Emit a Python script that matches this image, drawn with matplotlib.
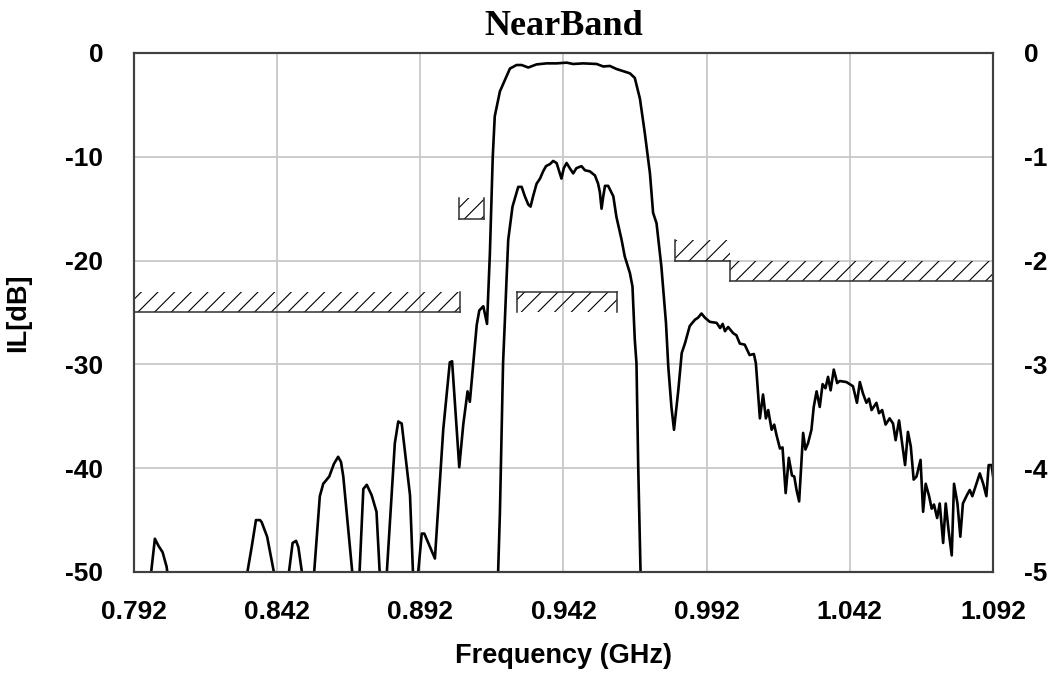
import matplotlib
matplotlib.use('Agg')
import matplotlib.pyplot as plt

# --- DATA ---
# wideband insertion loss (left axis, dB)
freq_wide = [0.7920, 0.7978, 0.7993, 0.8006, 0.8020, 0.8034, 0.8041, 0.8150,
             0.8313, 0.8331, 0.8346, 0.8360, 0.8366, 0.8385, 0.8412, 0.8440,
             0.8459, 0.8474, 0.8486, 0.8494, 0.8509, 0.8530,
             0.8548, 0.8569, 0.8581, 0.8602, 0.8618, 0.8633, 0.8643, 0.8651, 0.8684, 0.8696,
             0.8707, 0.8721, 0.8733, 0.8750, 0.8767, 0.8779, 0.8790,
             0.8802, 0.8831, 0.8843, 0.8855, 0.8884, 0.8895, 0.8903,
             0.8911, 0.8925, 0.8934, 0.8948, 0.8971, 0.9000, 0.9023, 0.9031, 0.9056,
             0.9070, 0.9085, 0.9093, 0.9117, 0.9126, 0.9140, 0.9153, 0.9163, 0.9173,
             0.9180, 0.9198, 0.9233, 0.9256, 0.9274, 0.9297, 0.9326, 0.9361, 0.9396,
             0.9431, 0.9454, 0.9489, 0.9536, 0.9559, 0.9582, 0.9605, 0.9652, 0.9669,
             0.9687, 0.9704, 0.9722, 0.9733, 0.9745, 0.9762, 0.9778, 0.9786, 0.9797,
             0.9806, 0.9821, 0.9833, 0.9844, 0.9861, 0.9879, 0.9890, 0.9902, 0.9914,
             0.9931, 0.9955, 0.9967, 0.9976, 0.9984, 0.9995, 1.0013, 1.0024, 1.0036,
             1.0053, 1.0070, 1.0085, 1.0092, 1.0106, 1.0117, 1.0127, 1.0135, 1.0147,
             1.0156, 1.0164, 1.0176, 1.0185, 1.0196, 1.0207, 1.0218, 1.0226, 1.0234,
             1.0243, 1.0257, 1.0265, 1.0274, 1.0286, 1.0294, 1.0304, 1.0315, 1.0325,
             1.0335, 1.0344, 1.0353, 1.0364, 1.0376, 1.0385, 1.0408, 1.0431, 1.0445,
             1.0455, 1.0466, 1.0478, 1.0487, 1.0496, 1.0513, 1.0522, 1.0533, 1.0545,
             1.0559, 1.0571, 1.0580, 1.0592, 1.0604, 1.0613, 1.0623, 1.0633, 1.0643,
             1.0653, 1.0667, 1.0676, 1.0685, 1.0697, 1.0706, 1.0714, 1.0725, 1.0734,
             1.0746, 1.0755, 1.0765, 1.0776, 1.0784, 1.0796, 1.0806, 1.0815, 1.0829,
             1.0839, 1.0848, 1.0862, 1.0874, 1.0886, 1.0897, 1.0905, 1.0915, 1.0923]
il_wide = [-60.0, -50.5, -46.8, -47.5, -48.1, -49.5, -51.0, -58.0,
           -50.5, -47.6, -45.0, -45.0, -45.2, -46.6, -50.5, -55.0,
           -50.5, -47.2, -47.0, -47.6, -50.5, -54.0,
           -50.5, -42.7, -41.5, -40.8, -39.6, -38.9, -39.4, -40.8, -50.5, -53.0,
           -50.5, -42.0, -41.6, -42.6, -44.2, -50.5, -53.0,
           -50.5, -37.6, -35.5, -35.7, -42.6, -50.5, -53.0,
           -50.5, -46.3, -46.3, -47.2, -48.7, -36.3, -29.8, -29.7, -39.9,
           -35.8, -32.6, -33.6, -26.2, -24.8, -24.4, -26.1, -19.3, -10.0,
           -6.1, -3.7, -1.5, -1.16, -1.16, -1.4, -1.1, -1.0, -1.0,
           -0.93, -1.06, -1.0, -1.06, -1.3, -1.25, -1.54, -1.96, -2.4,
           -4.4, -7.7, -11.6, -15.4, -16.4, -20.6, -26.0, -30.2, -34.1,
           -36.3, -32.5, -28.9, -28.0, -26.3, -25.7, -25.5, -25.1, -25.5,
           -25.9, -26.0, -26.5, -26.1, -26.8, -26.4, -27.0, -27.2, -28.0,
           -28.1, -29.1, -29.0, -29.9, -35.2, -32.9, -35.2, -34.4, -36.3,
           -35.8, -36.8, -38.1, -38.0, -42.4, -39.0, -40.7, -40.8, -42.1,
           -43.2, -36.6, -38.2, -37.6, -36.3, -34.1, -32.6, -34.1, -31.9,
           -32.3, -31.2, -32.5, -30.5, -31.8, -31.6, -31.7, -32.1, -33.7,
           -31.7, -32.8, -33.7, -33.3, -34.4, -33.7, -34.7, -34.4, -35.8,
           -35.2, -35.7, -37.3, -35.4, -37.9, -39.7, -36.5, -37.9, -41.1,
           -40.8, -39.2, -44.2, -41.5, -42.7, -43.9, -43.5, -44.8, -43.4,
           -47.2, -43.4, -46.0, -48.4, -41.5, -43.4, -46.6, -43.4, -42.6,
           -42.1, -42.7, -41.5, -40.5, -41.5, -42.7, -39.7, -39.7, -41.3]

# passband detail (right axis, dB)
freq_pass = [0.9185, 0.9192, 0.9198, 0.9209, 0.9215, 0.9221, 0.9227, 0.9242, 0.9262,
             0.9274, 0.9285, 0.9297, 0.9305, 0.9314, 0.9326, 0.9338, 0.9349, 0.9359,
             0.9373, 0.9384, 0.9396, 0.9405, 0.9413, 0.9421, 0.9431, 0.9442, 0.9454,
             0.9465, 0.9483, 0.9495, 0.9512, 0.9530, 0.9541, 0.9547, 0.9553, 0.9559,
             0.9565, 0.9576, 0.9594, 0.9605, 0.9623, 0.9634, 0.9652, 0.9661, 0.9669,
             0.9675, 0.9681, 0.9689, 0.9695]
il_pass = [-5.5, -4.98, -4.43, -2.99, -2.60, -2.19, -1.80, -1.48, -1.29,
           -1.29, -1.38, -1.46, -1.48, -1.38, -1.26, -1.21, -1.14, -1.09,
           -1.07, -1.04, -1.06, -1.14, -1.21, -1.11, -1.06, -1.11, -1.16,
           -1.11, -1.09, -1.13, -1.14, -1.18, -1.26, -1.34, -1.50, -1.38,
           -1.28, -1.28, -1.38, -1.58, -1.80, -1.96, -2.12, -2.25, -2.76,
           -2.99, -3.98, -4.98, -5.5]

# spec masks: (f_start, f_end, limit, hatch edge, left edge, right edge)
masks_left = [(0.792, 0.906, -25, -23, False, True),
              (0.9055, 0.9142, -16, -14, True, True),
              (0.981, 1.000, -20, -18, True, False),
              (1.000, 1.092, -22, -20, True, False)]
masks_right = [(0.9257, 0.9607, -2.3, -2.5, True, True)]

x_ticks = [0.792, 0.842, 0.892, 0.942, 0.992, 1.042, 1.092]
y_ticks_left = [0, -10, -20, -30, -40, -50]
y_ticks_right = [0, -1, -2, -3, -4, -5]

SANS = 'Liberation Sans'
SERIF = 'Liberation Serif'
MASK_COLOR = '#303030'
TICK_SIZE = 19


def draw_mask(ax, f0, f1, limit, edge, left, right):
    ax.fill_between([f0, f1], [limit, limit], [edge, edge], facecolor='none',
                    edgecolor='black', hatch='//', linewidth=0)
    ax.plot([f0, f1], [limit, limit], color=MASK_COLOR, lw=1.1)
    if left:
        ax.plot([f0, f0], [limit, edge], color=MASK_COLOR, lw=1.1)
    if right:
        ax.plot([f1, f1], [limit, edge], color=MASK_COLOR, lw=1.1)


plt.rcParams['hatch.linewidth'] = 0.8

fig = plt.figure(figsize=(10.55, 6.75), dpi=100)
ax = fig.add_axes([0.127, 0.1526, 0.8142, 0.7689])
ax2 = ax.twinx()

ax.plot(freq_wide, il_wide, color='black', lw=1.9)
ax2.plot(freq_pass, il_pass, color='black', lw=1.9)

for m in masks_left:
    draw_mask(ax, *m)
for m in masks_right:
    draw_mask(ax2, *m)

ax.set_xlim(0.792, 1.092)
ax.set_ylim(-50, 0)
ax2.set_ylim(-5, 0)

ax.set_xticks(x_ticks)
ax.set_xticklabels([f'{t:.3f}' for t in x_ticks], fontfamily=SANS, fontweight='bold', fontsize=TICK_SIZE)
ax.set_yticks(y_ticks_left)
ax.set_yticklabels([str(t) for t in y_ticks_left], fontfamily=SANS, fontweight='bold', fontsize=TICK_SIZE)
ax2.set_yticks(y_ticks_right)
ax2.set_yticklabels([str(t) for t in y_ticks_right], fontfamily=SANS, fontweight='bold', fontsize=TICK_SIZE)

ax.tick_params(axis='x', length=0, pad=20)
ax.tick_params(axis='y', length=0, pad=22)
ax2.tick_params(axis='y', length=0, pad=22)

ax.grid(True, color='#c8c8c8', lw=1.3)
ax.set_axisbelow(True)
for a in (ax, ax2):
    for s in a.spines.values():
        s.set_color('#404040')
        s.set_linewidth(1.5)

ax.set_xlabel('Frequency (GHz)', fontfamily=SANS, fontweight='bold', fontsize=19.5)
ax.xaxis.set_label_coords(0.5, -0.137)
ax.set_ylabel('IL[dB]', fontfamily=SANS, fontweight='bold', fontsize=19.5)
ax.yaxis.set_label_coords(-0.12, 0.5)
ax.set_title('NearBand', fontfamily=SERIF, fontweight='bold', fontsize=26, pad=13)

fig.savefig('out.png', dpi=100)
plt.close(fig)
